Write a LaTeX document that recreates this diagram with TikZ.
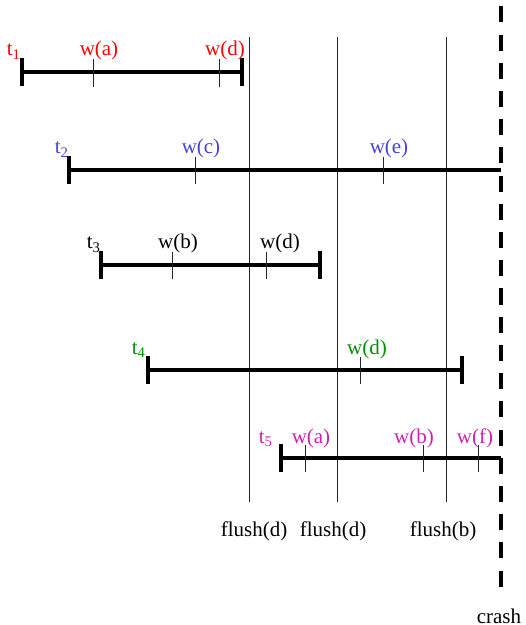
\documentclass[tikz,border=0pt]{standalone}
\usepackage{fontspec}
\setmainfont{Liberation Serif}
\usepackage{tikz}
\usetikzlibrary{positioning}

\definecolor{tred}{RGB}{255,0,0}
\definecolor{tblue}{RGB}{68,68,221}
\definecolor{tgreen}{RGB}{0,144,0}
\definecolor{tmagenta}{RGB}{208,32,176}

\tikzset{
  txn/.style={line width=2pt},
  wtick/.style={line width=0.5pt,black!85},
  flushline/.style={line width=0.5pt,black!85},
  crashline/.style={line width=2.2pt,dash pattern=on 8pt off 6.1pt},
  lbl/.style={anchor=base,inner sep=0pt,font=\fontsize{10.5}{12}\selectfont}
}

\begin{document}
\begin{tikzpicture}[x=0.5pt,y=-0.5pt]
        \useasboundingbox (0,0) rectangle (525,625);

        % flushes and crash
        \coordinate (fd1top) at (249,37);  \coordinate (fd1bot) at (249,502);
        \coordinate (fd2top) at (337,37);  \coordinate (fd2bot) at (337,502);
        \coordinate (fbtop) at (446,37);   \coordinate (fbbot) at (446,502);
        \coordinate (crtop) at (501,6.5);  \coordinate (crbot) at (501,588);
        \draw[flushline] (fd1top) -- (fd1bot);
        \draw[flushline] (fd2top) -- (fd2bot);
        \draw[flushline] (fbtop) -- (fbbot);
        \node[lbl] (fd1) at (254,536) {flush(d)};
        \node[lbl] (fd2) at (333,536) {flush(d)};
        \node[lbl] (fb) at (443,536) {flush(b)};
        \node[lbl] (crash) at (499,623) {crash};

        % t1
        \coordinate (s1) at (22,72); \coordinate (e1) at (242,72);
        \draw[txn] (s1) -- (e1);
        \draw[txn] (s1) ++(0,-14) -- ++(0,28);
        \draw[txn] (e1) ++(0,-14) -- ++(0,28);
        \draw[wtick] (93,59) -- (93,87);
        \draw[wtick] (219,59) -- (219,87);
        \node[lbl,tred] (t1) at (14,56) {t\textsubscript{1}};
        \node[lbl,tred] (t1a) at (99,56) {w(a)};
        \node[lbl,tred] (t1d) at (225,56) {w(d)};

        % t2
        \coordinate (s2) at (69,170); \coordinate (e2) at (501,170);
        \draw[txn] (s2) -- (e2);
        \draw[txn] (s2) ++(0,-14) -- ++(0,28);
        \draw[wtick] (195,157) -- (195,184);
        \draw[wtick] (383,157) -- (383,184);
        \node[lbl,tblue] (t2) at (62,154) {t\textsubscript{2}};
        \node[lbl,tblue] (t2c) at (201,154) {w(c)};
        \node[lbl,tblue] (t2e) at (389,154) {w(e)};

        % t3
        \coordinate (s3) at (101,265); \coordinate (e3) at (320,265);
        \draw[txn] (s3) -- (e3);
        \draw[txn] (s3) ++(0,-14) -- ++(0,28);
        \draw[txn] (e3) ++(0,-14) -- ++(0,28);
        \draw[wtick] (172,252) -- (172,279);
        \draw[wtick] (266,252) -- (266,279);
        \node[lbl] (t3) at (94,249) {t\textsubscript{3}};
        \node[lbl] (t3b) at (178,249) {w(b)};
        \node[lbl] (t3d) at (280,249) {w(d)};

        % t4
        \coordinate (s4) at (148,370); \coordinate (e4) at (462,370);
        \draw[txn] (s4) -- (e4);
        \draw[txn] (s4) ++(0,-14) -- ++(0,28);
        \draw[txn] (e4) ++(0,-14) -- ++(0,28);
        \draw[wtick] (360,357) -- (360,384);
        \node[lbl,tgreen] (t4) at (139,354) {t\textsubscript{4}};
        \node[lbl,tgreen] (t4d) at (367,354) {w(d)};

        % t5
        \coordinate (s5) at (281,458); \coordinate (e5) at (501,458);
        \draw[txn] (s5) -- (e5);
        \draw[txn] (s5) ++(0,-14) -- ++(0,28);
        \draw[wtick] (305,445) -- (305,472);
        \draw[wtick] (423,445) -- (423,472);
        \draw[wtick] (478,445) -- (478,472);
        \node[lbl,tmagenta] (t5) at (266,443) {t\textsubscript{5}};
        \node[lbl,tmagenta] (t5a) at (311,443) {w(a)};
        \node[lbl,tmagenta] (t5b) at (414,443) {w(b)};
        \node[lbl,tmagenta] (t5f) at (475,443) {w(f)};

        \draw[crashline] (crtop) -- (crbot);
      \end{tikzpicture}
\end{document}
